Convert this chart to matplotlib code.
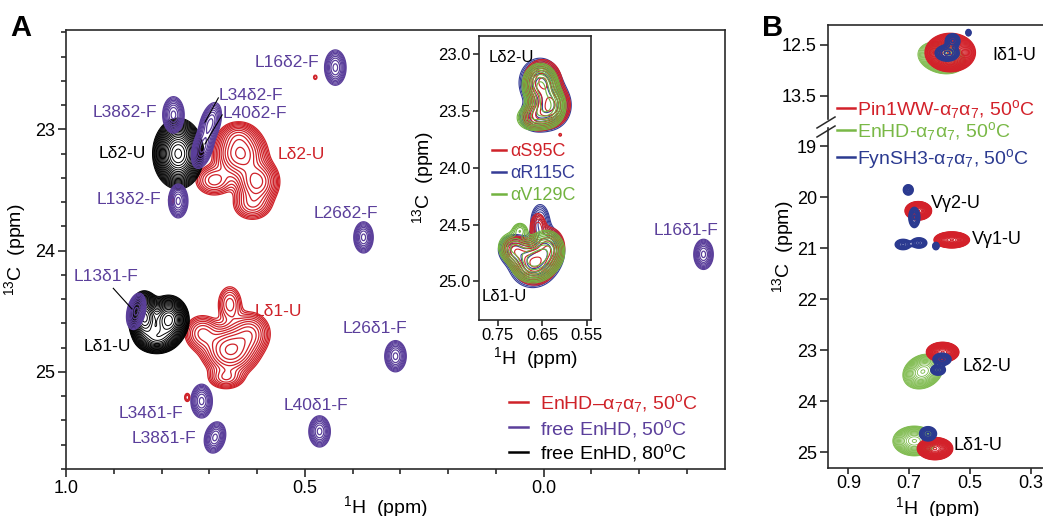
import numpy as np
import matplotlib
matplotlib.use("Agg")
import matplotlib.pyplot as plt
from matplotlib.lines import Line2D

plt.rcParams['font.family'] = ['Liberation Sans', 'DejaVu Sans']
plt.rcParams['mathtext.fontset'] = 'custom'
plt.rcParams['mathtext.rm'] = 'Liberation Sans'
plt.rcParams['mathtext.it'] = 'Liberation Sans:italic'
plt.rcParams['mathtext.bf'] = 'Liberation Sans:bold'

# peaks: (1H ppm, 13C ppm, width 1H, width 13C, amplitude, tilt)
# panel A - free EnHD 50C (narrow folded-state peaks)
free50_peaks = [
    (0.436, 22.49, 0.0105, 0.068, 1.0, 0.0),   # L16d2
    (0.775, 22.88, 0.0105, 0.070, 1.0, 0.0),   # L38d2
    (0.698, 22.95, 0.0110, 0.080, 1.0, 0.4),   # L34d2
    (0.714, 23.15, 0.0110, 0.080, 1.0, 0.4),   # L40d2
    (0.765, 23.59, 0.0095, 0.065, 1.0, 0.0),   # L13d2
    (0.377, 23.89, 0.0095, 0.060, 1.0, 0.0),   # L26d2
    (-0.335, 24.03, 0.0095, 0.058, 1.0, 0.0),  # L16d1
    (0.853, 24.50, 0.0095, 0.070, 1.0, 0.3),   # L13d1
    (0.310, 24.87, 0.0105, 0.060, 1.0, 0.0),   # L26d1
    (0.716, 25.24, 0.0105, 0.065, 1.0, 0.0),   # L34d1
    (0.688, 25.54, 0.0105, 0.060, 1.0, 0.2),   # L38d1
    (0.469, 25.49, 0.0105, 0.060, 1.0, 0.0),   # L40d1
]
# panel A - free EnHD 80C
free80_peaks = [
    (0.765, 23.20, 0.022, 0.120, 1.0, 0.0),
    (0.836, 24.55, 0.014, 0.090, 1.0, 0.0),
    (0.785, 24.57, 0.018, 0.085, 0.9, 0.0),
    (0.810, 24.72, 0.020, 0.060, 0.5, 0.0),
]
# panel A - EnHD-a7a7 50C
bound_peaks = [
    (0.635, 23.20, 0.026, 0.100, 1.0, 0.0),
    (0.600, 23.43, 0.022, 0.090, 0.85, 0.0),
    (0.690, 23.42, 0.022, 0.070, 0.35, 0.0),
    (0.610, 23.62, 0.022, 0.070, 0.35, 0.0),
    (0.640, 23.05, 0.020, 0.060, 0.30, 0.0),
    (0.656, 24.82, 0.028, 0.100, 1.0, 0.0),
    (0.615, 24.68, 0.022, 0.090, 0.5, 0.0),
    (0.715, 24.68, 0.020, 0.080, 0.4, 0.0),
    (0.657, 24.44, 0.015, 0.090, 0.28, 0.0),
    (0.665, 25.05, 0.020, 0.050, 0.35, 0.0),
    (0.478, 22.57, 0.004, 0.020, 0.12, 0.0),
    (0.746, 25.21, 0.005, 0.030, 0.15, 0.0),
    (0.720, 23.19, 0.006, 0.030, 0.15, 0.0),
    (0.780, 23.58, 0.005, 0.040, 0.14, 0.0),
]

# inset - three alpha mutants
s95_peaks = [
    (0.650, 23.24, 0.020, 0.090, 1.0, 0.0),
    (0.630, 23.45, 0.020, 0.090, 1.0, 0.0),
    (0.662, 23.55, 0.018, 0.070, 0.45, 0.0),
    (0.610, 23.71, 0.003, 0.012, 0.15, 0.0),
    (0.668, 24.84, 0.023, 0.090, 1.0, 0.0),
    (0.635, 24.70, 0.018, 0.090, 0.65, 0.0),
    (0.660, 24.52, 0.010, 0.070, 0.40, 0.0),
    (0.710, 24.73, 0.017, 0.070, 0.5, 0.0),
]
r115_peaks = [
    (0.655, 23.25, 0.022, 0.100, 1.0, 0.0),
    (0.632, 23.45, 0.022, 0.100, 0.95, 0.0),
    (0.665, 23.55, 0.020, 0.070, 0.5, 0.0),
    (0.672, 24.84, 0.025, 0.100, 1.0, 0.0),
    (0.640, 24.72, 0.020, 0.100, 0.7, 0.0),
    (0.655, 24.48, 0.012, 0.090, 0.45, 0.0),
    (0.715, 24.72, 0.018, 0.070, 0.55, 0.0),
]
v129_peaks = [
    (0.655, 23.27, 0.019, 0.090, 0.95, 0.0),
    (0.640, 23.46, 0.020, 0.090, 1.0, 0.0),
    (0.675, 23.56, 0.018, 0.060, 0.45, 0.0),
    (0.672, 24.82, 0.024, 0.090, 1.0, 0.0),
    (0.640, 24.73, 0.020, 0.090, 0.7, 0.0),
    (0.715, 24.70, 0.018, 0.070, 0.55, 0.0),
    (0.700, 24.55, 0.010, 0.040, 0.3, 0.0),
]

# panel B
pin1_peaks = [
    (0.565, 12.65, 0.034, 0.155, 1.0, 0.0),
    (0.670, 20.27, 0.018, 0.075, 1.0, 0.0),
    (0.560, 20.84, 0.024, 0.065, 1.0, 0.0),
    (0.590, 23.04, 0.022, 0.080, 1.0, 0.0),
    (0.615, 24.93, 0.024, 0.090, 1.0, 0.0),
]
enhd_peaks = [
    (0.593, 12.75, 0.032, 0.130, 1.0, -0.2),
    (0.655, 23.42, 0.027, 0.140, 1.0, 0.2),
    (0.683, 24.78, 0.029, 0.120, 1.0, 0.0),
]
fyn_peaks = [
    (0.557, 12.42, 0.012, 0.070, 1.0, 0.0),
    (0.575, 12.66, 0.020, 0.080, 1.0, 0.0),
    (0.505, 12.26, 0.004, 0.030, 1.0, 0.0),
    (0.703, 19.86, 0.008, 0.050, 1.0, 0.0),
    (0.683, 20.40, 0.009, 0.100, 1.0, 0.0),
    (0.720, 20.93, 0.013, 0.050, 1.0, 0.0),
    (0.668, 20.90, 0.013, 0.050, 1.0, 0.0),
    (0.612, 20.96, 0.005, 0.035, 1.0, 0.0),
    (0.592, 23.18, 0.015, 0.060, 1.0, 0.0),
    (0.605, 23.39, 0.012, 0.050, 1.0, 0.0),
    (0.638, 24.64, 0.014, 0.070, 1.0, 0.0),
]

# labels (text, 1H, 13C)
labelsA_free = [
    ('L16δ2-F', 0.604, 22.45), ('L38δ2-F', 0.945, 22.86), ('L34δ2-F', 0.681, 22.72),
    ('L40δ2-F', 0.673, 22.87), ('L13δ2-F', 0.935, 23.58), ('L26δ2-F', 0.482, 23.69),
    ('L16δ1-F', -0.231, 23.83), ('L13δ1-F', 0.985, 24.21), ('L26δ1-F', 0.421, 24.64),
    ('L34δ1-F', 0.889, 25.34), ('L38δ1-F', 0.862, 25.55), ('L40δ1-F', 0.545, 25.28),
]
labelsA_hot = [('Lδ2-U', 0.931, 23.20), ('Lδ1-U', 0.964, 24.79)]
labelsA_bound = [('Lδ2-U', 0.556, 23.21), ('Lδ1-U', 0.604, 24.50)]
labelsB = [('Vγ2-U', 0.627, 20.12), ('Vγ1-U', 0.493, 20.84),
           ('Lδ2-U', 0.523, 23.33), ('Lδ1-U', 0.553, 24.86)]

RED = '#cf2229'
PURPLE = '#5b3f9b'
BLUE = '#353c96'
GREEN = '#72b340'
BRED = '#d3212a'
BGREEN = '#79b846'
BBLUE = '#2b3a90'
AXC = '#2a2a2a'


def field(X, Y, peaks):
    Z = np.zeros_like(X)
    for x0, y0, sx, sy, amp, rho in peaks:
        dx = (X - x0) / sx
        dy = (Y - y0) / sy
        Z += amp * np.exp(-(dx * dx - 2 * rho * dx * dy + dy * dy) / (2 * (1 - rho * rho)))
    return Z


def px(x, y):
    return x / 1043, 1 - y / 516


def style_axes(ax, size=13):
    for s in ax.spines.values():
        s.set_color(AXC)
        s.set_linewidth(1.2)
    ax.tick_params(which='both', direction='out', top=False, right=False,
                   color=AXC, width=1.2, labelsize=size, pad=2)
    ax.tick_params(which='major', length=6)
    ax.tick_params(which='minor', length=3.5)


fig = plt.figure(figsize=(10.43, 5.16), dpi=100)

# ---------------- panel A ----------------
axA = fig.add_axes([66 / 1043, 1 - 469 / 516, 659 / 1043, 439 / 516])
xa = np.linspace(1.0, -0.38, 1100)
ya = np.linspace(22.18, 25.8, 800)
XA, YA = np.meshgrid(xa, ya)
axA.contour(XA, YA, field(XA, YA, bound_peaks), levels=np.geomspace(0.08, 0.95, 12),
            colors=RED, linewidths=0.9)
axA.contour(XA, YA, field(XA, YA, free80_peaks), levels=np.geomspace(0.05, 0.95, 22),
            colors='black', linewidths=0.7)
axA.contour(XA, YA, field(XA, YA, free50_peaks), levels=np.geomspace(0.1, 0.9, 9),
            colors=PURPLE, linewidths=0.9)
axA.set_xlim(1.0, -0.38)
axA.set_ylim(25.8, 22.18)
axA.set_xticks([1.0, 0.5, 0.0])
axA.set_xticklabels(['1.0', '0.5', '0.0'])
axA.set_xticks(np.arange(-0.3, 1.0, 0.1), minor=True)
axA.set_yticks([23, 24, 25])
axA.set_yticks(np.arange(22.2, 25.8, 0.2), minor=True)
style_axes(axA)
axA.set_xlabel('$^{1}$H  (ppm)', fontsize=14)
axA.xaxis.set_label_coords(0.484, -0.058)
axA.set_ylabel('$^{13}$C  (ppm)', fontsize=14)
axA.yaxis.set_label_coords(-0.058, 0.5)

for t, x, y in labelsA_free:
    axA.text(x, y, t, color=PURPLE, fontsize=12.5, ha='left', va='center')
for t, x, y in labelsA_hot:
    axA.text(x, y, t, color='black', fontsize=12.5, ha='left', va='center')
for t, x, y in labelsA_bound:
    axA.text(x, y, t, color=RED, fontsize=12.5, ha='left', va='center')
# leader lines
axA.plot([0.901, 0.862], [24.31, 24.48], color='black', lw=0.8)
axA.plot([0.681, 0.709], [22.74, 22.94], color='black', lw=0.8)
axA.plot([0.673, 0.709], [22.88, 23.12], color='black', lw=0.8)

legA = [('EnHD–α$_7$α$_7$, 50$^{\\rm o}$C', RED, 402),
        ('free EnHD, 50$^{\\rm o}$C', PURPLE, 427),
        ('free EnHD, 80$^{\\rm o}$C', 'black', 452)]
for t, c, yy in legA:
    fig.add_artist(Line2D([509 / 1043, 528 / 1043], [1 - yy / 516] * 2, color=c, lw=1.8))
    fig.text(540 / 1043, 1 - (yy + 7) / 516, t, color=c, fontsize=14, va='baseline')

# ---------------- inset ----------------
axI = fig.add_axes([479 / 1043, 1 - 320 / 516, 112 / 1043, 284 / 516])
xi = np.linspace(0.792, 0.541, 400)
yi = np.linspace(22.84, 25.34, 800)
XI, YI = np.meshgrid(xi, yi)
axI.contour(XI, YI, field(XI, YI, r115_peaks), levels=np.geomspace(0.1, 0.95, 10),
            colors=BLUE, linewidths=0.8)
axI.contour(XI, YI, field(XI, YI, s95_peaks), levels=np.geomspace(0.1, 0.95, 10),
            colors=RED, linewidths=0.8)
axI.contour(XI, YI, field(XI, YI, v129_peaks), levels=np.geomspace(0.1, 0.95, 10),
            colors=GREEN, linewidths=0.8)
axI.set_xlim(0.792, 0.541)
axI.set_ylim(25.34, 22.84)
axI.set_xticks([0.75, 0.65, 0.55])
axI.set_xticklabels(['0.75', '0.65', '0.55'])
axI.set_yticks([23.0, 23.5, 24.0, 24.5, 25.0])
axI.set_yticklabels(['23.0', '23.5', '24.0', '24.5', '25.0'])
style_axes(axI, size=12)
axI.tick_params(which='major', length=4)
axI.set_xlabel('$^{1}$H  (ppm)', fontsize=14, labelpad=1)
axI.set_ylabel('$^{13}$C  (ppm)', fontsize=14, labelpad=2)
axI.text(0.770, 23.03, 'Lδ2-U', fontsize=12, ha='left', va='center')
axI.text(0.785, 25.13, 'Lδ1-U', fontsize=12, ha='left', va='center')
legI = [('αS95C', RED, 150), ('αR115C', BLUE, 172), ('αV129C', GREEN, 194)]
for t, c, yy in legI:
    fig.add_artist(Line2D([492 / 1043, 506 / 1043], [1 - yy / 516] * 2, color=c, lw=1.8))
    fig.text(510 / 1043, 1 - (yy + 6.5) / 516, t, color=c, fontsize=13, va='baseline')

# ---------------- panel B ----------------
axBt = fig.add_axes([828 / 1043, 1 - 121 / 516, 218 / 1043, 96 / 516])
axB = fig.add_axes([828 / 1043, 1 - 468 / 516, 218 / 1043, 347 / 516])
xb = np.linspace(0.97, 0.24, 500)
ybt = np.linspace(12.1, 14.0, 300)
ybl = np.linspace(18.5, 25.32, 900)
XBt, YBt = np.meshgrid(xb, ybt)
XBl, YBl = np.meshgrid(xb, ybl)
for ax, XX, YY in [(axBt, XBt, YBt), (axB, XBl, YBl)]:
    ax.contour(XX, YY, field(XX, YY, enhd_peaks), levels=np.geomspace(0.05, 0.97, 16),
               colors=BGREEN, linewidths=0.6)
    ax.contour(XX, YY, field(XX, YY, pin1_peaks), levels=np.geomspace(0.05, 0.97, 22),
               colors=BRED, linewidths=0.8)
    ax.contour(XX, YY, field(XX, YY, fyn_peaks), levels=np.geomspace(0.15, 0.9, 6),
               colors=BBLUE, linewidths=1.3)
    ax.set_xlim(0.967, 0.25)
    style_axes(ax)

axBt.set_ylim(13.99, 12.11)
axBt.set_yticks([12.5, 13.5])
axBt.set_yticklabels(['12.5', '13.5'])
axBt.set_xticks([])
axBt.spines['bottom'].set_visible(False)
axBt.spines['right'].set_visible(False)
axBt.spines['left'].set_bounds(13.96, 12.11)
axBt.text(0.427, 12.70, 'Iδ1-U', fontsize=13, ha='left', va='center')

axB.set_ylim(25.31, 18.51)
axB.set_yticks([19, 20, 21, 22, 23, 24, 25])
axB.set_xticks([0.9, 0.7, 0.5, 0.3])
axB.set_xticklabels(['0.9', '0.7', '0.5', '0.3'])
axB.tick_params(axis='x', length=4, pad=1)
axB.spines['top'].set_visible(False)
axB.spines['right'].set_visible(False)
axB.spines['left'].set_bounds(25.31, 18.64)
for t, x, y in labelsB:
    axB.text(x, y, t, fontsize=13, ha='left', va='center')
axB.set_xlabel('$^{1}$H  (ppm)', fontsize=14)
axB.xaxis.set_label_coords((937 - 828) / 218, -(495 - 468) / 347)
fig.text(783 / 1043, 1 - 247 / 516, '$^{13}$C  (ppm)', fontsize=14, rotation=90,
         ha='center', va='center')

# axis break marks
for y0, y1 in [(128, 117), (137, 126)]:
    fig.add_artist(Line2D([817 / 1043, 835 / 1043], [1 - y0 / 516, 1 - y1 / 516],
                          color=AXC, lw=1.1))

legB = [('Pin1WW-α$_7$α$_7$, 50$^{\\rm o}$C', BRED, 108),
        ('EnHD-α$_7$α$_7$, 50$^{\\rm o}$C', BGREEN, 130),
        ('FynSH3-α$_7$α$_7$, 50$^{\\rm o}$C', BBLUE, 157)]
for t, c, yy in legB:
    fig.add_artist(Line2D([837 / 1043, 855 / 1043], [1 - yy / 516] * 2, color=c, lw=1.8))
    fig.text(857 / 1043, 1 - (yy + 7) / 516, t, color=c, fontsize=14, va='baseline')

fig.text(*px(10, 36), 'A', fontsize=21, fontweight='bold')
fig.text(*px(762, 36), 'B', fontsize=21, fontweight='bold')

fig.savefig('out.png', dpi=100)
